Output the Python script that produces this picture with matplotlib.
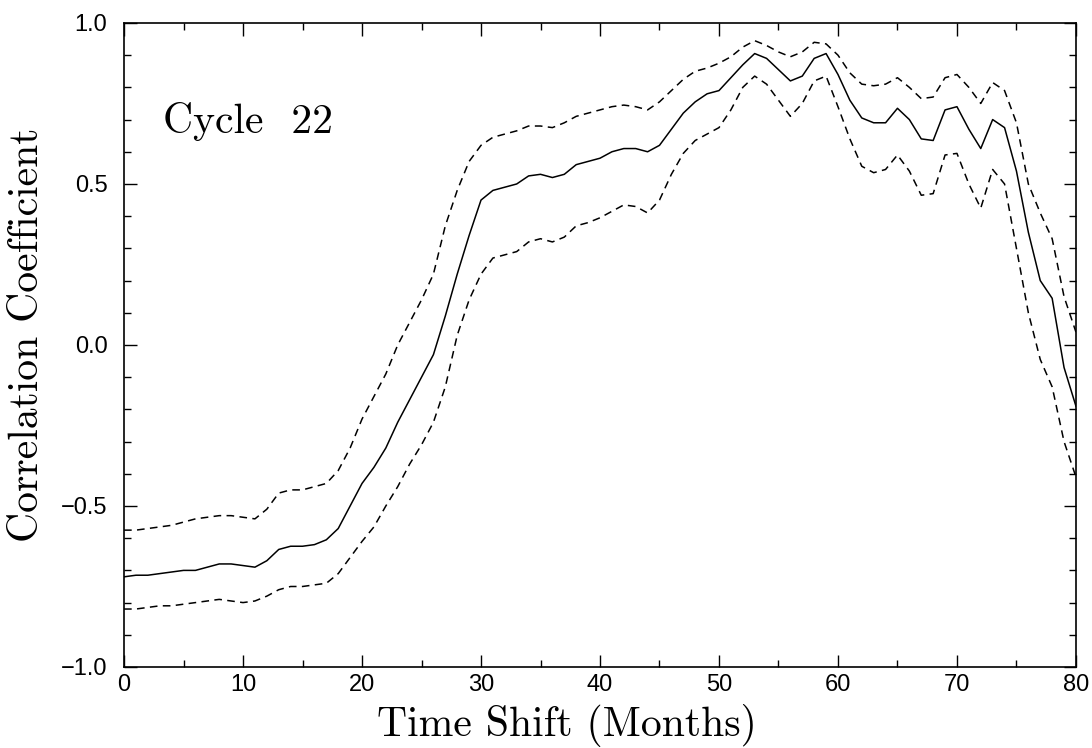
#!/usr/bin/env python3
"""
Cross-correlation vs. time shift for Cycle 22, with upper/lower confidence bounds.

Writes out.png.
"""

import matplotlib
matplotlib.use("Agg")
import matplotlib.pyplot as plt
from matplotlib.ticker import MultipleLocator, FuncFormatter

plt.rcParams.update({
    "font.family": "Liberation Sans",
    "xtick.labelsize": 17,
    "ytick.labelsize": 17,
})

# time shift in months
months = list(range(0, 81))

# correlation coefficient (solid)
corr = [
    -0.72, -0.715, -0.715, -0.71, -0.705, -0.70, -0.70, -0.69, -0.68, -0.68,
    -0.685, -0.69, -0.67, -0.635, -0.625, -0.625, -0.62, -0.605, -0.57, -0.50,
    -0.43, -0.38, -0.32, -0.24, -0.17, -0.10, -0.03, 0.09, 0.22, 0.34,
    0.45, 0.48, 0.49, 0.50, 0.525, 0.53, 0.52, 0.53, 0.56, 0.57,
    0.58, 0.60, 0.61, 0.61, 0.60, 0.62, 0.67, 0.72, 0.755, 0.78,
    0.79, 0.83, 0.87, 0.905, 0.89, 0.855, 0.82, 0.835, 0.89, 0.905,
    0.84, 0.76, 0.705, 0.69, 0.69, 0.735, 0.70, 0.64, 0.635, 0.73,
    0.74, 0.67, 0.61, 0.70, 0.675, 0.54, 0.35, 0.20, 0.145, -0.07,
    -0.19,
]

# upper bound (dashed)
upper = [
    -0.575, -0.575, -0.57, -0.565, -0.56, -0.55, -0.54, -0.535, -0.53, -0.53,
    -0.535, -0.54, -0.51, -0.46, -0.45, -0.45, -0.44, -0.43, -0.39, -0.32,
    -0.23, -0.16, -0.09, 0.0, 0.07, 0.14, 0.22, 0.37, 0.48, 0.57,
    0.62, 0.645, 0.655, 0.665, 0.68, 0.68, 0.675, 0.69, 0.71, 0.72,
    0.73, 0.74, 0.745, 0.74, 0.73, 0.755, 0.79, 0.825, 0.85, 0.86,
    0.875, 0.895, 0.925, 0.945, 0.93, 0.91, 0.895, 0.91, 0.94, 0.935,
    0.90, 0.845, 0.81, 0.805, 0.81, 0.83, 0.80, 0.765, 0.77, 0.83,
    0.84, 0.80, 0.75, 0.815, 0.79, 0.69, 0.50, 0.41, 0.33, 0.15,
    0.04,
]

# lower bound (dashed)
lower = [
    -0.82, -0.82, -0.815, -0.81, -0.81, -0.805, -0.80, -0.795, -0.79, -0.795,
    -0.80, -0.795, -0.78, -0.76, -0.75, -0.75, -0.745, -0.74, -0.71, -0.66,
    -0.61, -0.565, -0.50, -0.44, -0.37, -0.31, -0.24, -0.13, 0.03, 0.14,
    0.22, 0.27, 0.28, 0.29, 0.32, 0.33, 0.32, 0.335, 0.37, 0.38,
    0.395, 0.415, 0.435, 0.43, 0.41, 0.45, 0.53, 0.595, 0.635, 0.655,
    0.675, 0.73, 0.80, 0.835, 0.81, 0.76, 0.71, 0.75, 0.82, 0.835,
    0.74, 0.64, 0.555, 0.535, 0.545, 0.59, 0.54, 0.465, 0.47, 0.59,
    0.595, 0.50, 0.425, 0.545, 0.50, 0.30, 0.10, -0.045, -0.13, -0.30,
    -0.41,
]

fig = plt.figure(figsize=(10.92, 7.48), dpi=100)
ax = fig.add_axes([0.1136, 0.1083, 0.8717, 0.861])

ax.plot(months, corr, color="black", lw=1.1)
dash = (0, (5, 3.5))
ax.plot(months, upper, color="black", lw=1.1, linestyle=dash)
ax.plot(months, lower, color="black", lw=1.1, linestyle=dash)

ax.set_xlim(0, 80)
ax.set_ylim(-1.0, 1.0)
ax.xaxis.set_major_locator(MultipleLocator(10))
ax.xaxis.set_minor_locator(MultipleLocator(5))
ax.yaxis.set_major_locator(MultipleLocator(0.5))
ax.yaxis.set_minor_locator(MultipleLocator(0.1))
ax.yaxis.set_major_formatter(FuncFormatter(lambda v, p: f"{v:.1f}".replace("-", "\u2212")))

ax.tick_params(which="both", direction="in", top=True, right=True, width=1.0)
ax.tick_params(which="major", length=9)
ax.tick_params(which="minor", length=5)
ax.tick_params(axis="x", which="major", pad=5)
ax.tick_params(axis="y", which="major", pad=12)
for sp in ax.spines.values():
    sp.set_linewidth(1.2)

ax.set_xlabel("Time Shift (Months)", family="cmr10", fontsize=30, va="baseline")
ax.xaxis.set_label_coords(0.465, -0.107)
ax.set_ylabel("Correlation Coefficient", family="cmr10", fontsize=30, va="baseline")
ax.yaxis.set_label_coords(-0.0903, 0.516)
ax.text(3.3, 0.658, "Cycle  22", family="cmr10", fontsize=30, ha="left", va="baseline")

fig.savefig("out.png", dpi=100)
